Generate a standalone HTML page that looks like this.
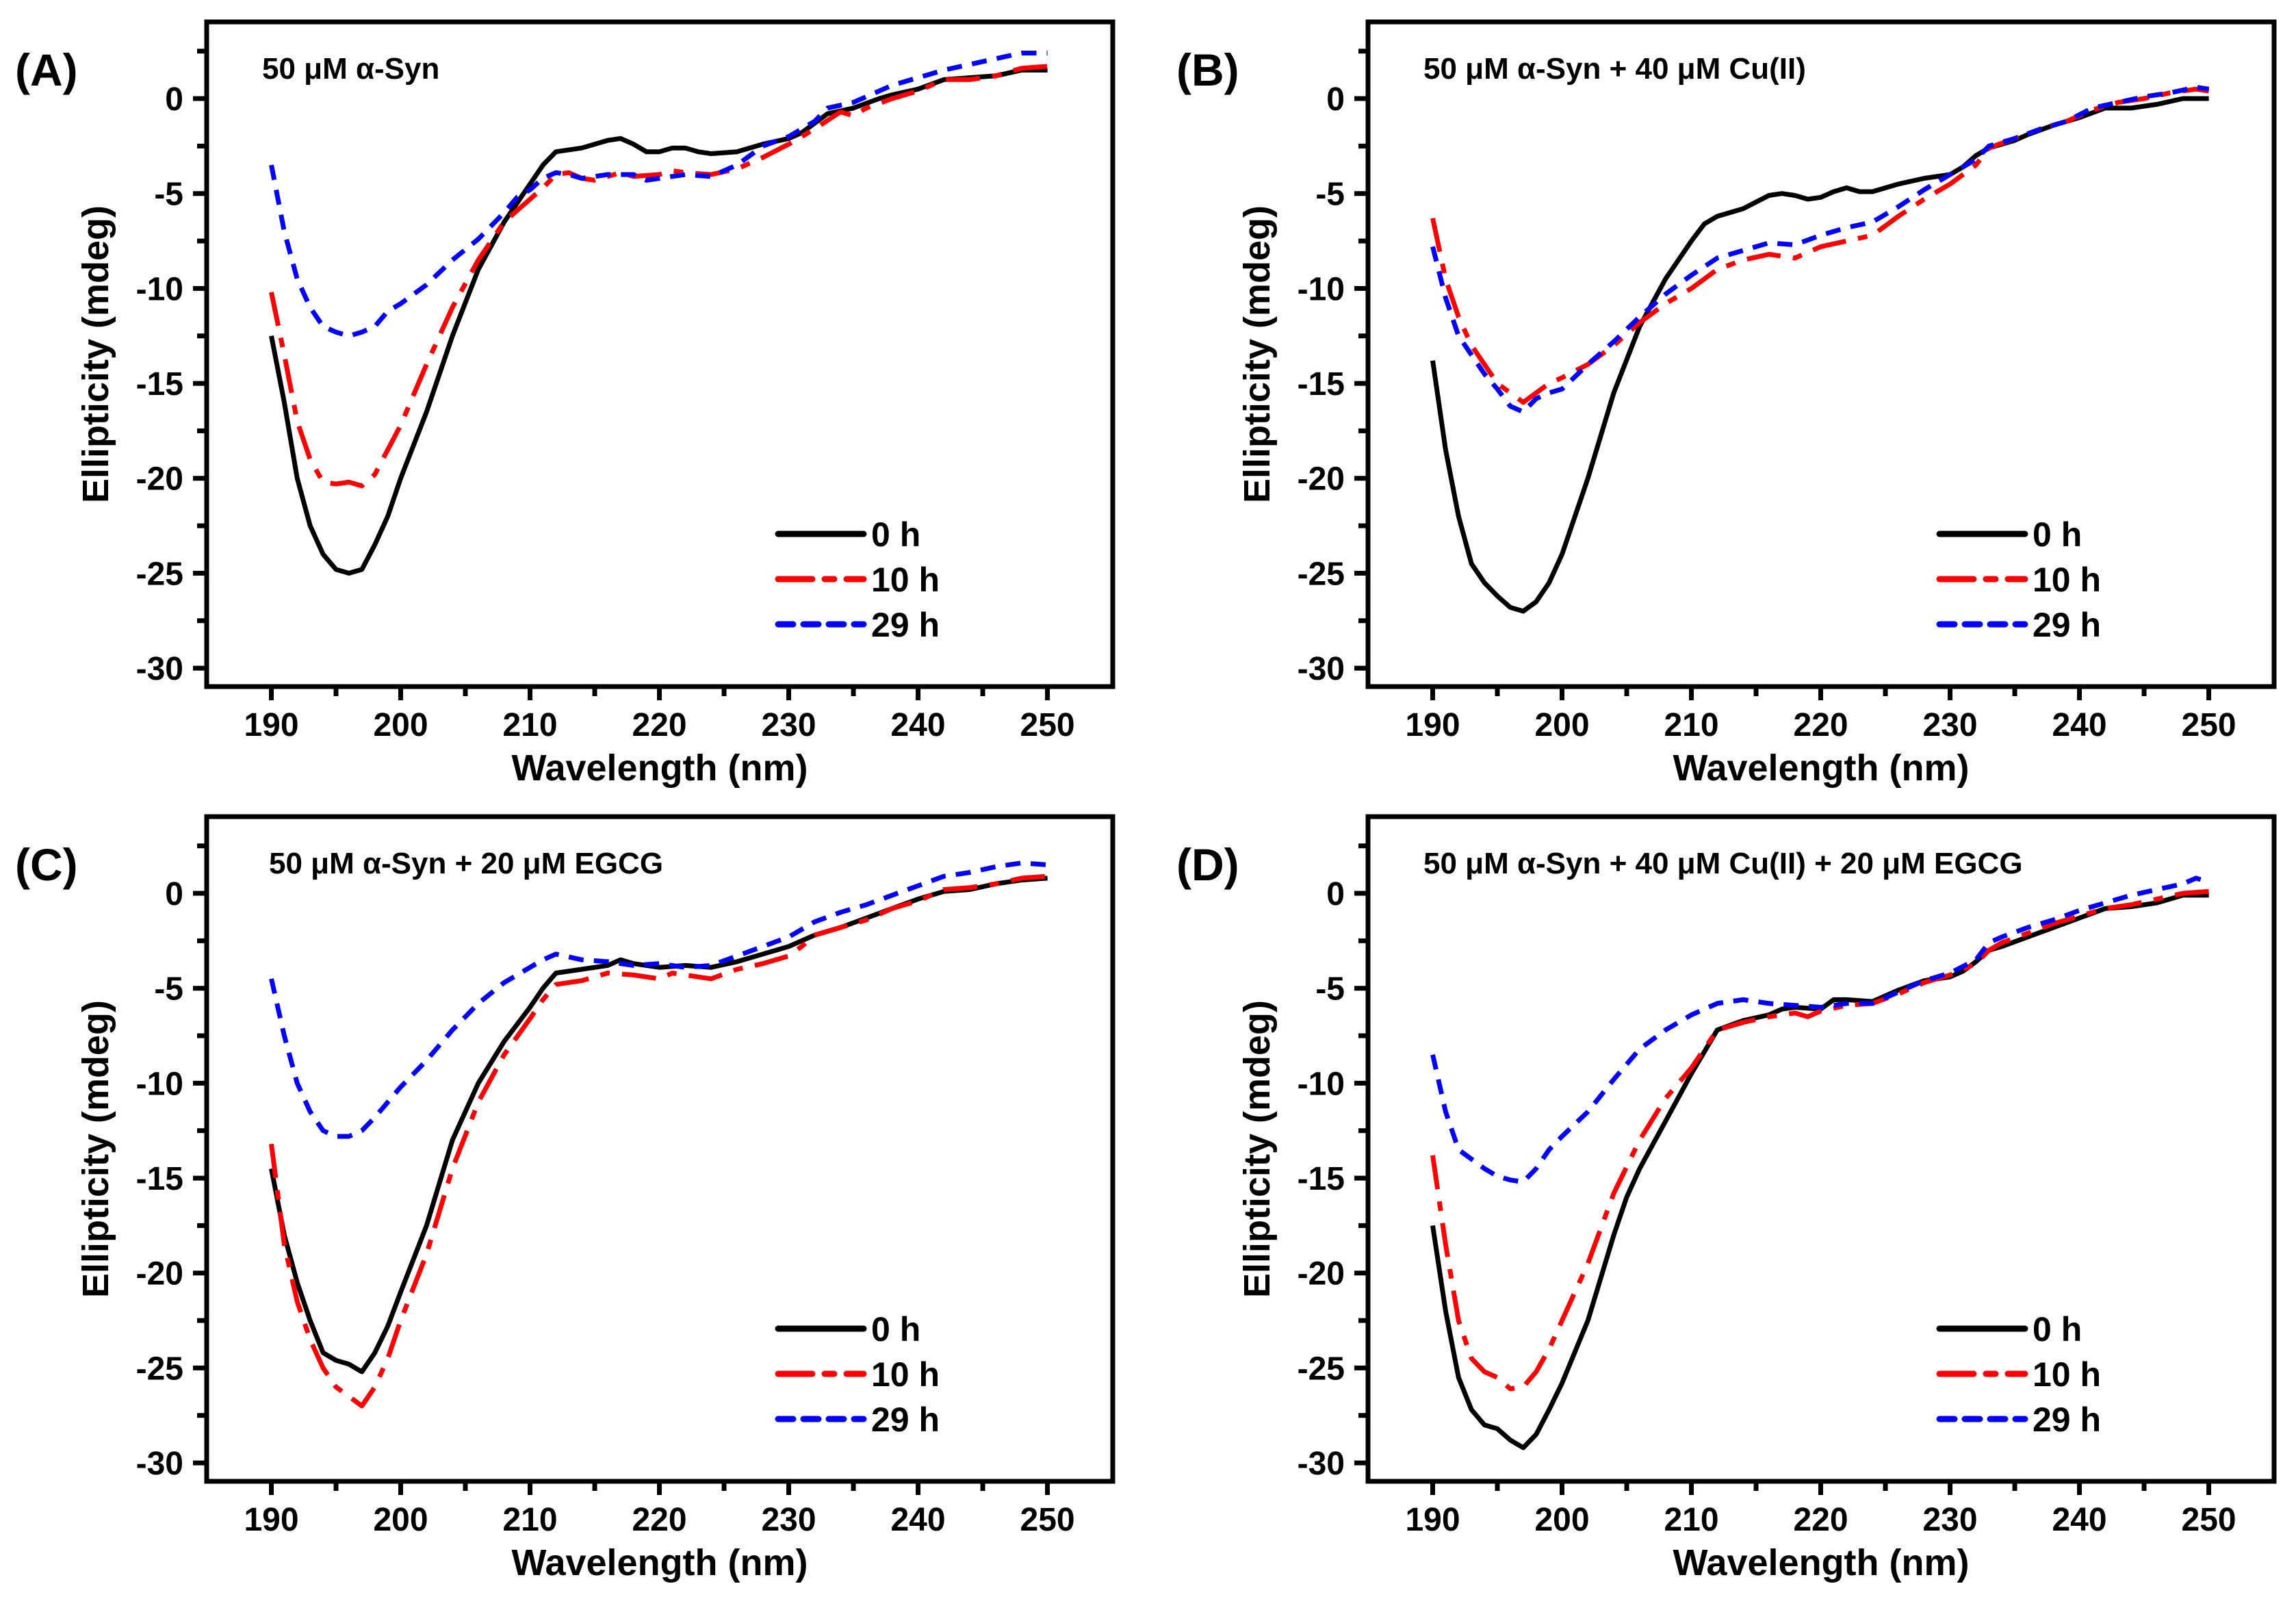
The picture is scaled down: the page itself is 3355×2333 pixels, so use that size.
<!DOCTYPE html>
<html><head><meta charset="utf-8">
<style>
html,body{margin:0;padding:0;background:#fff;}
svg{display:block;}
text{font-family:"Liberation Sans",Arial,sans-serif;font-weight:bold;fill:#000;}
</style></head>
<body>
<svg id="fig" width="3355" height="2333" viewBox="0 0 3355 2333" xmlns="http://www.w3.org/2000/svg">
<rect width="3355" height="2333" fill="#fff"/>
</svg>
<script>
// Panel A
const wlA0=[190,191,192,193,194,195,196,197,198,199,200,202,204,206,208,210,211,212,214,216,217,218,219,220,221,222,223,224,226,228,230,231,232,233,235,237,238,240,242,244,246,248,250];
const valA0=[-12.5,-16,-20,-22.5,-24,-24.8,-25,-24.8,-23.5,-22,-20,-16.5,-12.5,-9,-6.5,-4.5,-3.5,-2.8,-2.6,-2.2,-2.1,-2.4,-2.8,-2.8,-2.6,-2.6,-2.8,-2.9,-2.8,-2.4,-2.1,-1.8,-1.3,-0.8,-0.5,0,0.2,0.5,1.0,1.1,1.2,1.5,1.5];
const wlA10=[190,191,192,193,194,195,196,197,198,199,200,202,204,206,208,210,211,212,213,214,215,216,217,218,220,221,222,224,226,228,230,232,234,235,236,238,240,242,244,246,248,250];
const valA10=[-10.2,-13.5,-17,-19,-20.2,-20.3,-20.2,-20.4,-19.8,-18.5,-17.2,-14,-11,-8.5,-6.5,-5.3,-4.7,-4,-3.9,-4.2,-4.3,-4.1,-3.9,-4.1,-4.0,-3.8,-3.9,-4.0,-3.7,-3.1,-2.4,-1.6,-0.7,-0.9,-0.5,0,0.4,1.0,1.0,1.2,1.6,1.7];
const wlA29=[190,191,192,193,194,195,196,197,198,199,200,202,204,206,208,209,210,211,212,213,214,215,216,218,219,220,222,224,226,228,230,232,233,235,238,240,242,244,246,248,250];
const valA29=[-3.5,-7,-9.5,-11,-12,-12.3,-12.5,-12.3,-12,-11.2,-10.8,-9.8,-8.5,-7.4,-6,-5.2,-4.8,-4.2,-3.9,-4.0,-4.2,-4.1,-4.0,-4.0,-4.3,-4.2,-4.0,-4.1,-3.5,-2.5,-2.0,-1.2,-0.5,-0.2,0.7,1.1,1.5,1.8,2.1,2.4,2.4];
// Panel B
const wlB0=[190,191,192,193,194,195,196,197,198,199,200,201,202,204,206,208,210,211,212,214,216,217,218,219,220,221,222,223,224,226,228,230,231,232,233,235,236,238,240,242,244,246,248,250];
const valB0=[-13.8,-18.5,-22,-24.5,-25.5,-26.2,-26.8,-27,-26.5,-25.5,-24,-22,-20,-15.5,-12,-9.5,-7.5,-6.6,-6.2,-5.8,-5.1,-5.0,-5.1,-5.3,-5.2,-4.9,-4.7,-4.9,-4.9,-4.5,-4.2,-4.0,-3.6,-3.0,-2.6,-2.2,-1.9,-1.4,-1.0,-0.5,-0.5,-0.3,0,0];
const wlB10=[190,191,192,193,194,195,196,197,198,199,200,202,204,206,208,210,212,214,216,218,220,222,224,226,228,230,232,233,235,237,239,241,243,245,247,249,250];
const valB10=[-6.3,-9.5,-11.5,-13,-14,-15,-15.5,-16,-15.5,-15,-14.7,-14,-13,-11.8,-10.8,-10,-9,-8.5,-8.2,-8.4,-7.8,-7.5,-7.2,-6.2,-5.3,-4.5,-3.5,-2.6,-2.1,-1.6,-1.2,-0.6,-0.2,0,0.3,0.5,0.4];
const wlB29=[190,191,192,193,194,195,196,197,198,199,200,202,204,206,208,210,212,214,216,218,220,222,224,226,228,230,232,233,235,237,239,241,243,245,247,249,250];
const valB29=[-7.8,-10.5,-12.5,-13.5,-14.5,-15.3,-16.2,-16.5,-15.8,-15.5,-15.3,-14,-12.8,-11.5,-10.3,-9.3,-8.4,-8.0,-7.6,-7.7,-7.2,-6.8,-6.5,-5.7,-4.8,-4.0,-3.2,-2.5,-2.1,-1.6,-1.2,-0.5,-0.2,0.1,0.3,0.6,0.5];
// Panel C
const wlC0=[190,191,192,193,194,195,196,197,198,199,200,202,204,206,208,210,211,212,214,216,217,218,220,222,224,226,228,230,232,234,236,238,240,242,244,246,248,250];
const valC0=[-14.5,-18,-20.5,-22.5,-24.2,-24.6,-24.8,-25.2,-24.2,-22.8,-21,-17.5,-13,-10,-7.8,-6.0,-5.0,-4.2,-4.0,-3.8,-3.5,-3.7,-3.9,-3.8,-3.9,-3.6,-3.2,-2.8,-2.2,-1.8,-1.3,-0.8,-0.3,0.1,0.2,0.5,0.7,0.8];
const wlC10=[190,191,192,193,194,195,196,197,198,199,200,202,204,206,208,210,211,212,214,216,218,220,221,222,224,226,228,230,231,232,234,236,238,240,242,244,246,248,250];
const valC10=[-13.2,-18.5,-21.5,-23.5,-25,-26,-26.5,-27,-26,-24.5,-22.5,-19,-14.5,-11,-8.5,-6.6,-5.6,-4.8,-4.6,-4.2,-4.3,-4.5,-4.2,-4.3,-4.5,-4.0,-3.7,-3.3,-2.8,-2.2,-1.8,-1.4,-0.8,-0.4,0.2,0.3,0.5,0.8,0.9];
const wlC29=[190,191,192,193,194,195,196,197,198,199,200,202,204,206,208,210,211,212,214,216,218,220,222,224,226,228,230,232,234,236,238,240,242,244,246,248,250];
const valC29=[-4.5,-7.5,-10,-11.5,-12.5,-12.8,-12.8,-12.5,-11.8,-11,-10.2,-8.8,-7.2,-5.8,-4.7,-3.9,-3.5,-3.2,-3.5,-3.6,-3.8,-3.7,-3.9,-3.8,-3.3,-2.8,-2.3,-1.5,-1.0,-0.6,-0.1,0.4,0.9,1.1,1.4,1.6,1.5];
// Panel D
const wlD0=[190,191,192,193,194,195,196,197,198,199,200,202,204,205,206,208,210,212,214,216,217,218,220,221,222,224,226,228,230,231,232,233,234,236,238,240,242,244,246,248,250];
const valD0=[-17.5,-22,-25.5,-27.2,-28,-28.2,-28.8,-29.2,-28.5,-27.2,-25.8,-22.5,-18,-16,-14.5,-12,-9.5,-7.2,-6.7,-6.4,-6.1,-6.0,-6.1,-5.6,-5.6,-5.7,-5.1,-4.6,-4.4,-4.1,-3.6,-3.0,-2.8,-2.3,-1.8,-1.3,-0.8,-0.7,-0.5,-0.1,-0.1];
const wlD10=[190,191,192,193,194,195,196,197,198,199,200,202,204,206,208,210,211,212,214,216,218,219,220,222,224,226,228,230,232,233,234,236,238,240,242,244,246,248,250];
const valD10=[-13.8,-18.5,-22.5,-24.5,-25.2,-25.5,-26.1,-26,-25.2,-24,-22.5,-19.5,-15.8,-13,-10.8,-9.2,-8.2,-7.2,-6.8,-6.5,-6.3,-6.5,-6.2,-5.9,-5.8,-5.3,-4.7,-4.3,-3.7,-3.0,-2.6,-2.1,-1.6,-1.2,-0.8,-0.6,-0.3,0,0.1];
const wlD29=[190,191,192,193,194,195,196,197,198,199,200,202,204,206,208,210,212,214,216,218,220,222,224,226,228,230,232,233,234,236,238,240,242,244,246,248,249,250];
const valD29=[-8.5,-11.5,-13.5,-14,-14.5,-14.9,-15.1,-15.2,-14.5,-13.5,-12.8,-11.5,-9.8,-8.2,-7.2,-6.4,-5.8,-5.6,-5.8,-5.9,-6.0,-5.8,-5.8,-5.2,-4.6,-4.2,-3.5,-2.6,-2.3,-1.8,-1.4,-0.9,-0.5,-0.1,0.2,0.5,0.8,0.6];

const xTicks=[190,200,210,220,230,240,250];
const yTicks=[0,-5,-10,-15,-20,-25,-30];
const legendLabels=["0 h","10 h","29 h"];
const panelLetters=["(A)","(B)","(C)","(D)"];
const panelTitles=["50 \u03BCM \u03B1-Syn","50 \u03BCM \u03B1-Syn + 40 \u03BCM Cu(II)","50 \u03BCM \u03B1-Syn + 20 \u03BCM EGCG","50 \u03BCM \u03B1-Syn + 40 \u03BCM Cu(II) + 20 \u03BCM EGCG"];

const NS="http://www.w3.org/2000/svg";
const svg=document.getElementById('fig');
function mk(tag,attrs,parent){const e=document.createElementNS(NS,tag);for(const k in attrs)e.setAttribute(k,attrs[k]);(parent||svg).appendChild(e);return e;}

const styles=[
 {stroke:"#000",dash:""},
 {stroke:"#ff0000",dash:"50 18 14 18"},
 {stroke:"#0000ff",dash:"22 15"}
];
const panels=[
 {ox:0,oy:0,series:[[wlA0,valA0],[wlA10,valA10],[wlA29,valA29]],tx:383},
 {ox:1697,oy:0,series:[[wlB0,valB0],[wlB10,valB10],[wlB29,valB29]],tx:383},
 {ox:0,oy:1161,series:[[wlC0,valC0],[wlC10,valC10],[wlC29,valC29]],tx:393},
 {ox:1697,oy:1161,series:[[wlD0,valD0],[wlD10,valD10],[wlD29,valD29]],tx:383}
];
const L=302,R=1626,T=32,B=1003;
const xMin=185.0,xMax=255.05,yMin=-30.97,yMax=4.04;

panels.forEach((p,pi)=>{
  const g=mk('g',{transform:`translate(${p.ox},${p.oy})`});
  
  
  const xs=v=>L+(v-xMin)/(xMax-xMin)*(R-L);
  const ys=v=>T+(yMax-v)/(yMax-yMin)*(B-T);
  const lt=mk('text',{x:22,y:125,'font-size':66},g);lt.textContent=panelLetters[pi];
  
  
  const tt=mk('text',{x:p.tx,y:115,'font-size':44},g);tt.textContent=panelTitles[pi];
  
  
  const sg=mk('g',{},g);
  p.series.forEach((s,si)=>{
    const [wl,val]=s;
    let d='';
    for(let i=0;i<wl.length;i++){d+=(i?'L':'M')+xs(wl[i]).toFixed(1)+' '+ys(val[i]).toFixed(1);}
    const path=mk('path',{d:d,fill:'none',stroke:styles[si].stroke,'stroke-width':7,'stroke-linejoin':'round'},sg);
    if(styles[si].dash)path.setAttribute('stroke-dasharray',styles[si].dash);
    
    
  });
  const fr=mk('rect',{x:L,y:T,width:R-L,height:B-T,fill:'none',stroke:'#000','stroke-width':7},g);
  
  
  for(let v=190;v<=250;v+=5){
    const major=xTicks.includes(v);
    mk('line',{x1:xs(v),x2:xs(v),y1:B,y2:B+(major?20:14),stroke:'#000','stroke-width':7},g);
  }
  xTicks.forEach(v=>{
    const t=mk('text',{x:xs(v),y:B+72,'font-size':48,'text-anchor':'middle'},g);t.textContent=v;
    
    
  });
  for(let v=2.5;v>=-30;v-=2.5){
    const major=yTicks.includes(v);
    mk('line',{x1:L,x2:L-(major?20:14),y1:ys(v),y2:ys(v),stroke:'#000','stroke-width':7},g);
  }
  yTicks.forEach(v=>{
    const t=mk('text',{x:268,y:ys(v)+17,'font-size':48,'text-anchor':'end'},g);t.textContent=v;
    
    
  });
  const xl=mk('text',{x:(L+R)/2,y:1140,'font-size':54,'text-anchor':'middle'},g);xl.textContent='Wavelength (nm)';
  
  
  const yl=mk('text',{x:0,y:0,'font-size':54,'text-anchor':'middle',transform:`translate(158,${(T+B)/2}) rotate(-90)`},g);yl.textContent='Ellipticity (mdeg)';
  
  
  const ly=[780,846,912];
  legendLabels.forEach((lab,i)=>{
    const ln=mk('line',{x1:1137,x2:1262,y1:ly[i],y2:ly[i],stroke:styles[i].stroke,'stroke-width':9,'stroke-linecap':'round'},g);
    if(styles[i].dash)ln.setAttribute('stroke-dasharray',styles[i].dash);
    
    
    const t=mk('text',{x:1273,y:ly[i]+18,'font-size':50},g);t.textContent=lab;
    
    
  });
});
</script>
</body></html>
